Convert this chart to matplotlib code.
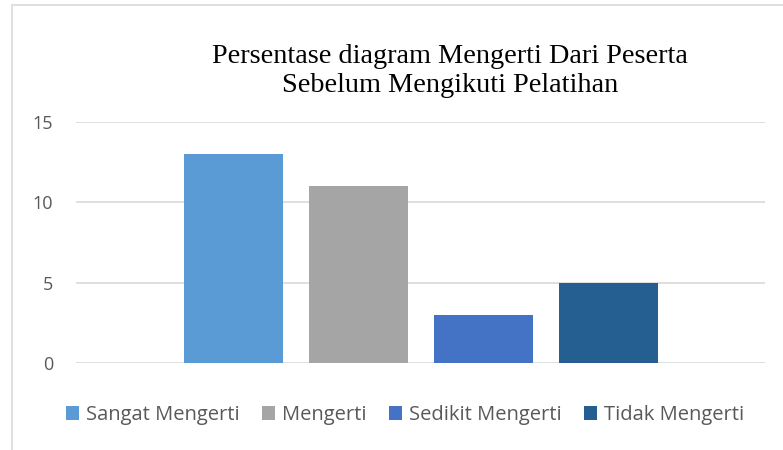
import matplotlib
matplotlib.use("Agg")
import matplotlib.pyplot as plt
from matplotlib.patches import Rectangle

# data
series = ["Sangat Mengerti", "Mengerti", "Sedikit Mengerti", "Tidak Mengerti"]
values = [13, 11, 3, 5]
colors = ["#5B9BD5", "#A5A5A5", "#4472C4", "#255E91"]
yticks = [0, 5, 10, 15]
title = "Persentase diagram Mengerti Dari Peserta\nSebelum Mengikuti Pelatihan"

W, H = 783, 450
fig = plt.figure(figsize=(W / 100, H / 100), dpi=100)

# plot area in pixels: x 76..765, y 122..363
ax = fig.add_axes([76 / W, (H - 363) / H, (765 - 76) / W, (363 - 122) / H])

bars = []
for i, (name, v, c) in enumerate(zip(series, values, colors)):
    b = ax.bar(i, v, width=0.792, color=c, label=name, zorder=3)
    bars.append(b)

ax.set_xlim(-1.26, 4.252)
ax.set_ylim(0, 15)
ax.set_yticks(yticks)
ax.set_xticks([])
ax.grid(axis="y", color="#D9D9D9", linewidth=1.2, zorder=0)
for s in ax.spines.values():
    s.set_visible(False)
ax.tick_params(axis="y", length=0, pad=16.5, labelsize=13, labelcolor="#595959")
for lab in ax.get_yticklabels():
    lab.set_fontfamily("Open Sans")

fig.text(450 / W, 1 - 71 / H, title, ha="center", va="center",
         fontsize=20.3, family="Liberation Serif", color="#000000", linespacing=1.22)

leg = fig.legend(handles=[b[0] for b in bars], labels=series,
                 loc="center", bbox_to_anchor=(405 / W, 1 - 415 / H), ncol=4,
                 frameon=False, handlelength=0.65, handleheight=0.65,
                 handletextpad=0.35, columnspacing=1.1,
                 prop={"family": "Open Sans", "size": 14.5})
for t in leg.get_texts():
    t.set_color("#595959")

# chart border (only top and left visible in the crop)
fig.add_artist(Rectangle((12 / W, -0.1), 1.2, 1.1 - 5 / H, transform=fig.transFigure,
                         fill=False, edgecolor="#D9D9D9", linewidth=1.2))

fig.savefig("out.png", dpi=100)
